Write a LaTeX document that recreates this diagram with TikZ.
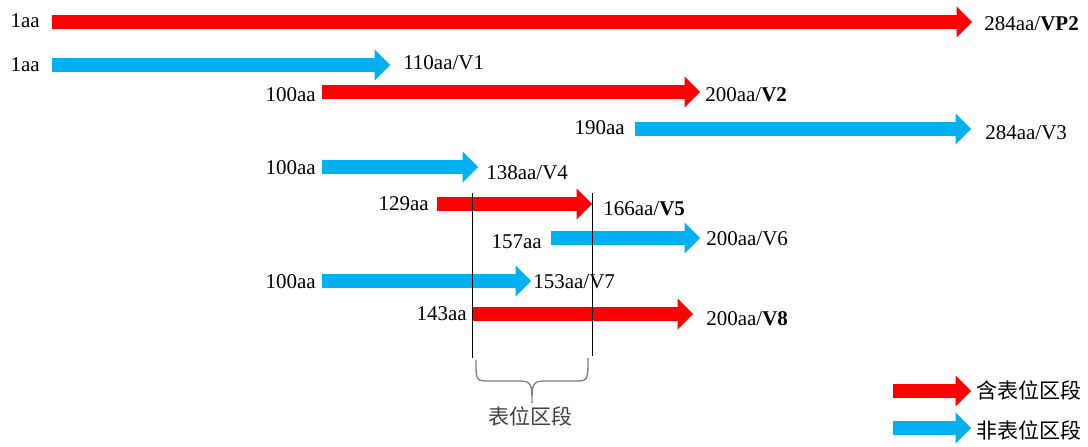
\documentclass[tikz,border=0pt]{standalone}
\usepackage{fontspec}
\setmainfont{Liberation Serif}
\newfontfamily\cjk{Noto Sans CJK SC}
\usetikzlibrary{arrows.meta}
\definecolor{myred}{HTML}{FF0000}
\definecolor{myblue}{HTML}{00B0F0}
\definecolor{bracegray}{HTML}{7F7F7F}
\definecolor{txtgray}{HTML}{404040}
\begin{document}
\begin{tikzpicture}[x=0.75pt,y=-0.75pt,
  bar/.style={line width=11pt,-{Triangle[length=11.5pt,width=23pt,line width=0pt]}},
  redbar/.style={bar,draw=myred,fill=myred},
  bluebar/.style={bar,draw=myblue,fill=myblue},
  lab/.style={inner sep=0pt,font=\fontsize{15.75}{18}\selectfont},
  ll/.style={lab,anchor=base east},
  rl/.style={lab,anchor=base west},
  cjklab/.style={inner sep=0pt,anchor=base west,font=\cjk\fontsize{15.75}{18}\selectfont},
  vline/.style={draw=black,line width=0.6pt},
  brace/.style={draw=bracegray,line width=1pt}]
\useasboundingbox (0,0) rectangle (1088,446);

% bar end points
\coordinate (s1) at (52,22);   \coordinate (e1) at (972,22);
\coordinate (s2) at (52,65);   \coordinate (e2) at (390,65);
\coordinate (s3) at (322,92);  \coordinate (e3) at (700,92);
\coordinate (s4) at (635,129); \coordinate (e4) at (971,129);
\coordinate (s5) at (322,167); \coordinate (e5) at (478,167);
\coordinate (s6) at (437,204); \coordinate (e6) at (592,204);
\coordinate (s7) at (551,238); \coordinate (e7) at (700,238);
\coordinate (s8) at (322,281); \coordinate (e8) at (531,281);
\coordinate (s9) at (472,314); \coordinate (e9) at (693,314);
\coordinate (sr) at (893,391); \coordinate (er) at (971,391);
\coordinate (sb) at (893,428); \coordinate (eb) at (971,428);

\draw[redbar]  (s1) -- (e1);
\draw[bluebar] (s2) -- (e2);
\draw[redbar]  (s3) -- (e3);
\draw[bluebar] (s4) -- (e4);
\draw[bluebar] (s5) -- (e5);
\draw[redbar]  (s6) -- (e6);
\draw[bluebar] (s7) -- (e7);
\draw[bluebar] (s8) -- (e8);
\draw[redbar]  (s9) -- (e9);
\draw[redbar]  (sr) -- (er);
\draw[bluebar] (sb) -- (eb);

% start labels
\node[ll] (l1) at (40,27)  {1aa};
\node[ll] (l2) at (40,71)  {1aa};
\node[ll] (l3) at (316,101) {100aa};
\node[ll] (l4) at (625,134) {190aa};
\node[ll] (l5) at (316,174) {100aa};
\node[ll] (l6) at (429,210) {129aa};
\node[ll] (l7) at (542,248) {157aa};
\node[ll] (l8) at (316,288) {100aa};
\node[ll] (l9) at (467,320) {143aa};

% end labels
\node[rl] (r1) at (984,30)  {284aa/\textbf{VP2}};
\node[rl] (r2) at (403,69)  {110aa/V1};
\node[rl] (r3) at (705,101) {200aa/\textbf{V2}};
\node[rl] (r4) at (985,139) {284aa/V3};
\node[rl] (r5) at (486,179) {138aa/V4};
\node[rl] (r6) at (603,215) {166aa/\textbf{V5}};
\node[rl] (r7) at (706,245) {200aa/V6};
\node[rl] (r8) at (533,288) {153aa/V7};
\node[rl] (r9) at (706,325) {200aa/\textbf{V8}};

% epitope region lines
\coordinate (v1t) at (472,193); \coordinate (v1b) at (472,358);
\coordinate (v2t) at (592,193); \coordinate (v2b) at (592,356);
\draw[vline] (v1t) -- (v1b);
\draw[vline] (v2t) -- (v2b);

% brace
\coordinate (bl) at (476,360);
\coordinate (br) at (588,358);
\coordinate (bm) at (532,403);
\draw[brace] (bl) .. controls (476,381) and (476,381) .. (490,381) -- (520,381)
  .. controls (532,381) and (532,386) .. (bm)
  .. controls (532,386) and (532,381) .. (544,381) -- (574,381)
  .. controls (588,381) and (588,381) .. (br);
\node[cjklab,text=txtgray] (bt) at (488,424) {表位区段};

% legend
\node[cjklab] (lg1) at (976,398) {含表位区段};
\node[cjklab] (lg2) at (976,438) {非表位区段};
\end{tikzpicture}
\end{document}
